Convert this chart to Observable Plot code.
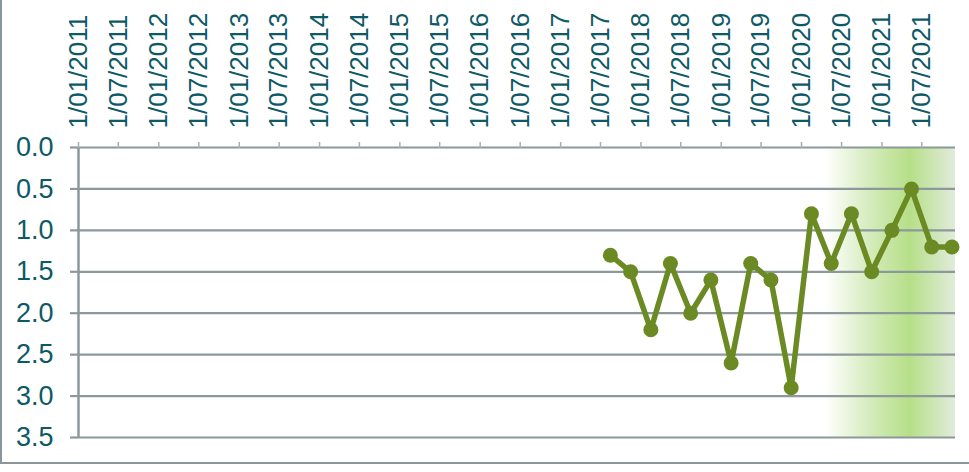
<!DOCTYPE html>
<html>
<head>
<meta charset="utf-8">
<script src="https://cdn.jsdelivr.net/npm/d3@7"></script>
<script src="https://cdn.jsdelivr.net/npm/@observablehq/plot@0.6"></script>
<style>
  html, body { margin: 0; padding: 0; background: #ffffff; }
  #wrap { position: relative; width: 969px; height: 472px; overflow: hidden; }
  #frame { position: absolute; left: 0px; top: -10px; width: 990px; height: 474px;
           border-left: 2.5px solid #8a979a; border-bottom: 2.5px solid #8a979a; box-sizing: border-box; pointer-events: none; }
</style>
</head>
<body>
<div id="wrap"><div id="chart"></div><div id="frame"></div></div>
<script>
// Data (quarterly observations)
const dates = ["2017-08-15","2017-11-15","2018-02-15","2018-05-15","2018-08-15","2018-11-15",
               "2019-02-15","2019-05-15","2019-08-15","2019-11-15","2020-02-15","2020-05-15",
               "2020-08-15","2020-11-15","2021-02-15","2021-05-15","2021-08-15","2021-11-15"];
const values = [1.3, 1.5, 2.2, 1.4, 2.0, 1.6, 2.6, 1.4, 1.6, 2.9, 0.8, 1.4, 0.8, 1.5, 1.0, 0.5, 1.2, 1.2];

// Axis ticks
const xTickDates = ["2011-01-01","2011-07-01","2012-01-01","2012-07-01","2013-01-01","2013-07-01",
                    "2014-01-01","2014-07-01","2015-01-01","2015-07-01","2016-01-01","2016-07-01",
                    "2017-01-01","2017-07-01","2018-01-01","2018-07-01","2019-01-01","2019-07-01",
                    "2020-01-01","2020-07-01","2021-01-01","2021-07-01"];
const xTickLabels = ["1/01/2011","1/07/2011","1/01/2012","1/07/2012","1/01/2013","1/07/2013",
                     "1/01/2014","1/07/2014","1/01/2015","1/07/2015","1/01/2016","1/07/2016",
                     "1/01/2017","1/07/2017","1/01/2018","1/07/2018","1/01/2019","1/07/2019",
                     "1/01/2020","1/07/2020","1/01/2021","1/07/2021"];
const yTicks = [0, 0.5, 1.0, 1.5, 2.0, 2.5, 3.0, 3.5];
const yTickLabels = ["0.0","0.5","1.0","1.5","2.0","2.5","3.0","3.5"];
const xDomain = ["2011-01-01", "2021-12-01"];
const shadeRange = ["2020-04-20", "2021-12-01"];

const data = dates.map((d, i) => ({date: new Date(d), value: values[i]}));
const tickDates = xTickDates.map(d => new Date(d));
const dom = xDomain.map(d => new Date(d));
const shade = [{x1: new Date(shadeRange[0]), x2: new Date(shadeRange[1])}];

const textColor = "#0d5966";
const gridColor = "#8c999b";
const lineColor = "#6b8a23";

const plot = Plot.plot({
  width: 969,
  height: 472,
  marginTop: 147,
  marginLeft: 78,
  marginRight: 14,
  marginBottom: 35,
  style: {fontFamily: "'Liberation Sans', Arial, sans-serif", background: "transparent"},
  x: {type: "utc", domain: dom},
  y: {domain: [0, 3.5], reverse: true},
  marks: [
    Plot.rect(shade, {x1: "x1", x2: "x2", y1: 0, y2: 3.5, fill: "url(#shadeGrad)"}),
    Plot.ruleY(yTicks, {x1: dom[0], x2: dom[1], stroke: gridColor, strokeWidth: 2.2}),
    Plot.ruleX([dom[0]], {y1: 0, y2: 3.5, stroke: gridColor, strokeWidth: 2.5}),
    Plot.axisY({ticks: yTicks, tickFormat: (d, i) => yTickLabels[i], tickSize: 8, tickPadding: 17,
                fontSize: 27, color: textColor, stroke: gridColor, strokeWidth: 2.2, strokeOpacity: 1, label: null}),
    Plot.axisX({anchor: "top", ticks: tickDates, tickFormat: (d, i) => xTickLabels[i], tickRotate: -90,
                tickSize: 6, tickPadding: 13, fontSize: 26, color: textColor, stroke: "#a5b0b2",
                strokeWidth: 1.5, strokeOpacity: 1, label: null}),
    Plot.line(data, {x: "date", y: "value", stroke: lineColor, strokeWidth: 5.5, strokeLinejoin: "miter"}),
    Plot.dot(data, {x: "date", y: "value", r: 7.5, fill: lineColor, stroke: "none"})
  ]
});

const svg = d3.select(plot);
const defs = svg.insert("defs", ":first-child");
const g = defs.append("linearGradient").attr("id", "shadeGrad").attr("x1", 0).attr("x2", 1).attr("y1", 0).attr("y2", 0);
g.append("stop").attr("offset", 0).attr("stop-color", "#ffffff");
g.append("stop").attr("offset", 0.35).attr("stop-color", "#d4ebbb");
g.append("stop").attr("offset", 0.65).attr("stop-color", "#b6df88");
g.append("stop").attr("offset", 1).attr("stop-color", "#e2ebdb");
svg.selectAll("text").attr("fill", textColor);

document.getElementById("chart").appendChild(plot);
</script>
</body>
</html>
